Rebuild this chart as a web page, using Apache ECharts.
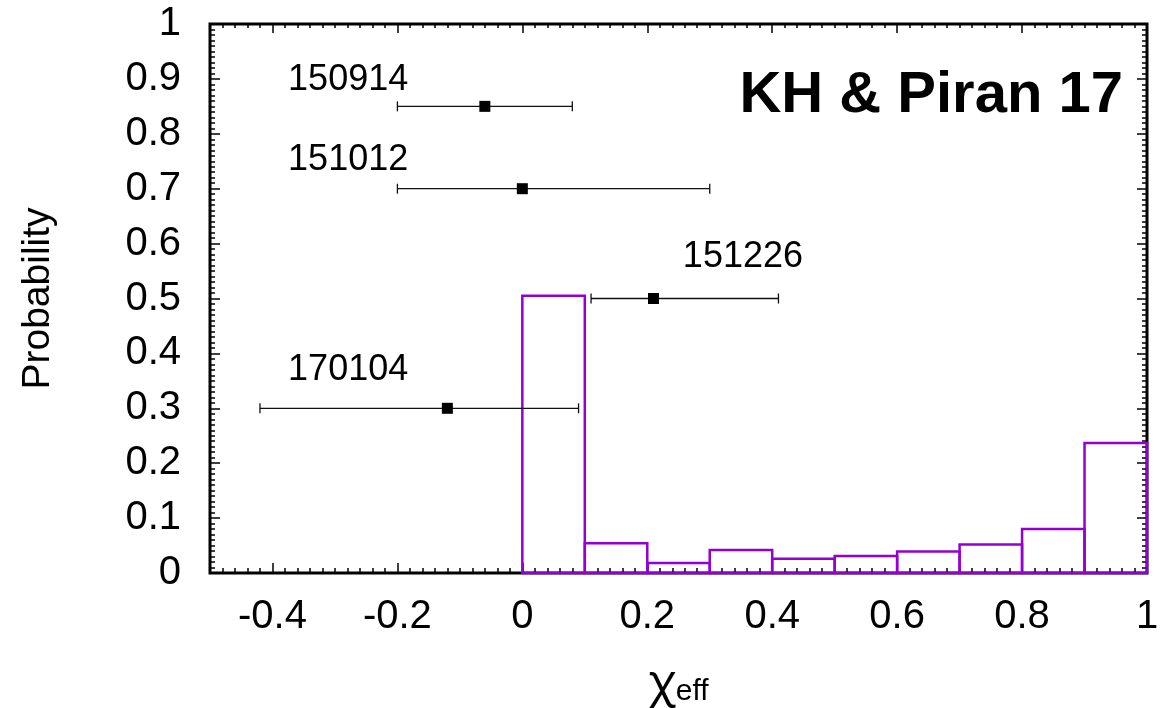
<!DOCTYPE html>
<html>
<head>
<meta charset="utf-8">
<script src="https://cdn.jsdelivr.net/npm/echarts@6/dist/echarts.min.js"></script>
<style>
  html, body { margin: 0; padding: 0; background: #fff; }
  #chart { width: 1162px; height: 708px; }
</style>
</head>
<body>
<div id="chart"></div>
<script>
// Histogram of the effective spin: bin edges and probability per bin
const binLeft  = [0.0, 0.1, 0.2, 0.3, 0.4, 0.5, 0.6, 0.7, 0.8, 0.9];
const binRight = [0.1, 0.2, 0.3, 0.4, 0.5, 0.6, 0.7, 0.8, 0.9, 1.0];
const binProb  = [0.505, 0.054, 0.018, 0.042, 0.026, 0.031, 0.039, 0.052, 0.080, 0.237];

// Measured events: central value, lower and upper bound, plotted height
const eventNames = ['150914', '151012', '151226', '170104'];
const eventChi   = [-0.06, 0.0, 0.21, -0.12];
const eventLow   = [-0.20, -0.20, 0.11, -0.42];
const eventHigh  = [0.08, 0.30, 0.41, 0.09];
const eventY     = [0.85, 0.70, 0.50, 0.30];

// Where each event name is written (data coordinates of its left/middle point)
const nameX = [-0.375, -0.375, 0.257, -0.375];
const nameY = [0.898, 0.752, 0.576, 0.370];

// Axis tick labels
const xTickValues = [-0.4, -0.2, 0, 0.2, 0.4, 0.6, 0.8, 1];

const FONT = '"Liberation Sans", Arial, Helvetica, sans-serif';
const GREEK = '"Noto Sans", "DejaVu Sans", sans-serif';

const histData = binLeft.map((l, i) => [l, binRight[i], binProb[i]]);
const eventData = eventNames.map((n, i) => [eventChi[i], eventY[i], eventLow[i], eventHigh[i]]);
const nameData = eventNames.map((n, i) => [nameX[i], nameY[i], n]);

const fmt = v => String(Math.round(v * 10) / 10);

const xBase = { type: 'value', min: -0.5, max: 1, gridIndex: 0, splitLine: { show: false }, axisLine: { show: false, onZero: false } };
const yBase = { type: 'value', min: 0, max: 1, gridIndex: 0, splitLine: { show: false }, axisLine: { show: false, onZero: false } };
const tickStyle = { color: '#000', width: 1.5 };

const chart = echarts.init(document.getElementById('chart'), null, { renderer: 'canvas' });

chart.setOption({
  animation: false,
  backgroundColor: '#fff',
  textStyle: { fontFamily: FONT },
  grid: {
    left: 210, right: 15, top: 24, bottom: 135,
    containLabel: false, outerBoundsMode: 'none',
    show: true, borderColor: '#000', borderWidth: 3, backgroundColor: 'transparent'
  },
  xAxis: [
    // bottom: minor ticks every 0.02
    Object.assign({}, xBase, {
      position: 'bottom', interval: 0.02,
      axisTick: { show: true, inside: true, length: 5, lineStyle: tickStyle },
      axisLabel: { show: false }
    }),
    // bottom: major ticks and labels
    Object.assign({}, xBase, {
      position: 'bottom',
      axisTick: { show: true, inside: true, length: 10, lineStyle: tickStyle, customValues: xTickValues },
      axisLabel: {
        show: true, customValues: xTickValues, formatter: fmt,
        fontSize: 40, color: '#000', fontFamily: FONT, margin: 24
      },
      name: '{chi|χ}{sub|eff}',
      nameLocation: 'middle',
      nameGap: 84,
      nameTextStyle: {
        rich: {
          chi: { fontSize: 46, color: '#000', fontFamily: GREEK, verticalAlign: 'bottom', lineHeight: 50 },
          sub: { fontSize: 30, color: '#000', fontFamily: FONT, verticalAlign: 'bottom', lineHeight: 34 }
        }
      }
    }),
    // top: minor ticks
    Object.assign({}, xBase, {
      position: 'top', interval: 0.02,
      axisTick: { show: true, inside: true, length: 4, lineStyle: tickStyle },
      axisLabel: { show: false }
    }),
    // top: major ticks
    Object.assign({}, xBase, {
      position: 'top',
      axisTick: { show: true, inside: true, length: 9, lineStyle: tickStyle, customValues: xTickValues },
      axisLabel: { show: false }
    })
  ],
  yAxis: [
    Object.assign({}, yBase, {
      position: 'left', interval: 0.1,
      axisTick: { show: true, inside: true, length: 10, lineStyle: tickStyle },
      minorTick: { show: true, splitNumber: 10, length: 5, lineStyle: tickStyle },
      axisLabel: { show: true, formatter: fmt, fontSize: 40, color: '#000', fontFamily: FONT, margin: 29 },
      name: 'Probability',
      nameLocation: 'middle',
      nameGap: 152,
      nameTextStyle: { fontSize: 39, color: '#000', fontFamily: FONT }
    }),
    Object.assign({}, yBase, {
      position: 'right', interval: 0.1,
      axisTick: { show: true, inside: true, length: 10, lineStyle: tickStyle },
      minorTick: { show: true, splitNumber: 10, length: 5, lineStyle: tickStyle },
      axisLabel: { show: false }
    })
  ],
  graphic: [
    {
      type: 'text', right: 1162 - 1123, top: 67,
      style: { text: 'KH & Piran 17', font: 'bold 58px ' + FONT, fill: '#000' }
    }
  ],
  series: [
    {
      // histogram drawn as outlined boxes
      type: 'custom',
      xAxisIndex: 0, yAxisIndex: 0,
      data: histData,
      encode: { x: [0, 1], y: 2 },
      renderItem: (params, api) => {
        const p0 = api.coord([api.value(0), api.value(2)]);
        const p1 = api.coord([api.value(1), 0]);
        return {
          type: 'rect',
          shape: { x: p0[0], y: p0[1], width: p1[0] - p0[0], height: p1[1] - p0[1] },
          style: { fill: 'none', stroke: '#9400D3', lineWidth: 2.5 }
        };
      },
      z: 3
    },
    {
      // horizontal error bars with square markers
      type: 'custom',
      xAxisIndex: 0, yAxisIndex: 0,
      data: eventData,
      encode: { x: [0, 2, 3], y: 1 },
      renderItem: (params, api) => {
        const y = api.value(1);
        const c = api.coord([api.value(0), y]);
        const lo = api.coord([api.value(2), y]);
        const hi = api.coord([api.value(3), y]);
        const cap = 5;
        const ls = { stroke: '#111', lineWidth: 1.3 };
        return {
          type: 'group',
          children: [
            { type: 'line', shape: { x1: lo[0], y1: lo[1], x2: hi[0], y2: hi[1] }, style: ls },
            { type: 'line', shape: { x1: lo[0], y1: lo[1] - cap, x2: lo[0], y2: lo[1] + cap }, style: ls },
            { type: 'line', shape: { x1: hi[0], y1: hi[1] - cap, x2: hi[0], y2: hi[1] + cap }, style: ls },
            { type: 'rect', shape: { x: c[0] - 5.5, y: c[1] - 5.5, width: 11, height: 11 }, style: { fill: '#000' } }
          ]
        };
      },
      z: 4
    },
    {
      // event names
      type: 'custom',
      xAxisIndex: 0, yAxisIndex: 0,
      data: nameData,
      encode: { x: 0, y: 1 },
      renderItem: (params, api) => {
        const p = api.coord([api.value(0), api.value(1)]);
        return {
          type: 'text',
          x: p[0], y: p[1],
          style: {
            text: nameData[params.dataIndex][2],
            font: '36px ' + FONT, fill: '#000',
            textAlign: 'left', textVerticalAlign: 'middle'
          }
        };
      },
      z: 5
    }
  ]
});
</script>
</body>
</html>
